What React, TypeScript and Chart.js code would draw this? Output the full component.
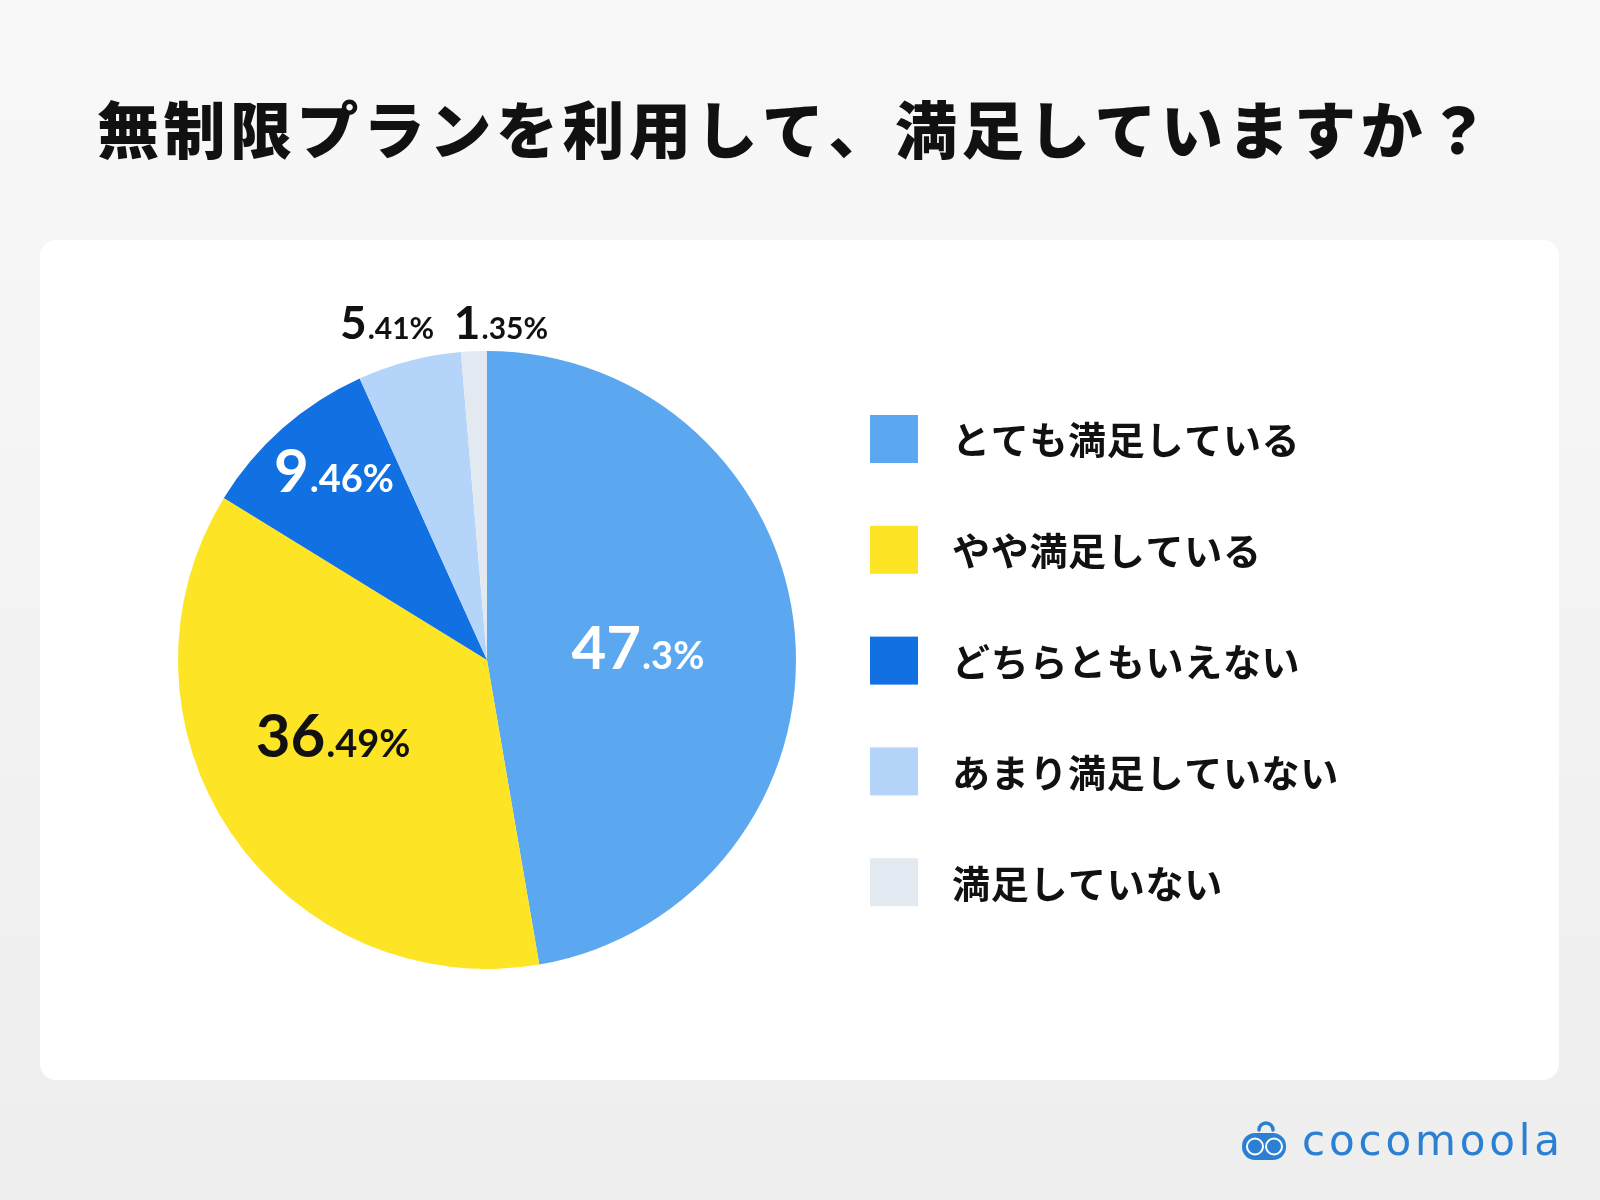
import React, { useEffect, useRef } from "react";
import { Chart, registerables } from "chart.js";

Chart.register(...registerables);

const TITLE = "無制限プランを利用して、満足していますか？";
const categories = [
  "とても満足している",
  "やや満足している",
  "どちらともいえない",
  "あまり満足していない",
  "満足していない",
];
const values = [47.3, 36.49, 9.46, 5.41, 1.35];
const colors = ["#5BA8F0", "#FDE525", "#1271E2", "#B4D4F9", "#E3E9F1"];
const labelColors = ["#ffffff", "#111111", "#ffffff", "#111111", "#111111"];
const BRAND = "cocomoola";

// label placement: radial fraction, angle shift (deg), big/small font sizes
const LABEL_PLACE = [
  { f: 0.49, shift: 0, big: 60, small: 38 },
  { f: 0.555, shift: 7.9, big: 60, small: 38 },
  { f: 0.788, shift: 2.4, big: 60, small: 38 },
  { f: 1.139, shift: -1.9, big: 46, small: 30 },
  { f: 1.093, shift: 4.8, big: 46, small: 30 },
];

const NUM_FONT = "Lato, 'Noto Sans', sans-serif";
const JP_FONT = "'Noto Sans CJK JP', 'Noto Sans', sans-serif";
const LOGO_FONT = "'DejaVu Sans', 'Noto Sans', sans-serif";

function drawSpaced(ctx: CanvasRenderingContext2D, text: string, x: number, y: number, ls: number) {
  let cx = x;
  for (const ch of Array.from(text)) {
    ctx.fillText(ch, cx, y);
    cx += ctx.measureText(ch).width + ls;
  }
}
function spacedWidth(ctx: CanvasRenderingContext2D, text: string, ls: number) {
  const chars = Array.from(text);
  return chars.reduce((a, c) => a + ctx.measureText(c).width, 0) + ls * (chars.length - 1);
}

const decorPlugin = {
  id: "decor",
  beforeDraw(chart: any) {
    const ctx: CanvasRenderingContext2D = chart.ctx;
    const W = chart.width;
    const H = chart.height;
    ctx.save();
    const g = ctx.createLinearGradient(0, 0, 0, H);
    g.addColorStop(0, "#f8f8f8");
    g.addColorStop(1, "#eeeeee");
    ctx.fillStyle = g;
    ctx.fillRect(0, 0, W, H);
    // card
    ctx.fillStyle = "#ffffff";
    ctx.beginPath();
    ctx.roundRect(40, 240, 1519, 840, 16);
    ctx.fill();
    // title
    ctx.fillStyle = "#111111";
    ctx.font = `900 62px ${JP_FONT}`;
    ctx.textBaseline = "middle";
    ctx.textAlign = "left";
    const targetW = 1392;
    const chars = Array.from(TITLE);
    const raw = spacedWidth(ctx, TITLE, 0);
    const ls = (targetW - raw) / (chars.length - 1);
    drawSpaced(ctx, TITLE, 793 - targetW / 2, 130, ls);
    ctx.restore();
  },
  afterDatasetsDraw(chart: any) {
    const ctx: CanvasRenderingContext2D = chart.ctx;
    const meta = chart.getDatasetMeta(0);
    ctx.save();
    ctx.textAlign = "left";
    ctx.textBaseline = "alphabetic";
    meta.data.forEach((arc: any, i: number) => {
      const { x, y, startAngle, endAngle, outerRadius } = arc.getProps(
        ["x", "y", "startAngle", "endAngle", "outerRadius"],
        true
      );
      const p = LABEL_PLACE[i];
      const mid = (startAngle + endAngle) / 2 + (p.shift * Math.PI) / 180;
      const r = outerRadius * p.f;
      const cx = x + Math.cos(mid) * r;
      const cy = y + Math.sin(mid) * r;
      const str = String(chart.data.datasets[0].data[i]) + "%";
      const dot = str.indexOf(".");
      const big = dot >= 0 ? str.slice(0, dot) : str.replace("%", "");
      const small = dot >= 0 ? str.slice(dot) : "%";
      ctx.font = `700 ${p.big}px ${NUM_FONT}`;
      const wb = ctx.measureText(big).width;
      ctx.font = `700 ${p.small}px ${NUM_FONT}`;
      const ws = ctx.measureText(small).width;
      const gap = 1;
      const total = wb + gap + ws;
      const baseline = cy + p.big * 0.36;
      const x0 = cx - total / 2;
      ctx.fillStyle = labelColors[i];
      ctx.font = `700 ${p.big}px ${NUM_FONT}`;
      ctx.fillText(big, x0, baseline);
      ctx.font = `700 ${p.small}px ${NUM_FONT}`;
      ctx.fillText(small, x0 + wb + gap, baseline);
    });
    ctx.restore();
  },
  afterDraw(chart: any) {
    const ctx: CanvasRenderingContext2D = chart.ctx;
    ctx.save();
    // legend
    const labels: string[] = chart.data.labels;
    const bg: string[] = chart.data.datasets[0].backgroundColor;
    ctx.font = `700 38px ${JP_FONT}`;
    ctx.textBaseline = "middle";
    ctx.textAlign = "left";
    labels.forEach((lab, i) => {
      const cy = 439 + i * 110.8;
      ctx.fillStyle = bg[i];
      ctx.fillRect(870, cy - 24, 48, 48);
      ctx.fillStyle = "#111111";
      drawSpaced(ctx, lab, 952, cy + 1, 0.7);
    });
    // logo
    const blue = "#2C80D2";
    ctx.fillStyle = blue;
    ctx.beginPath();
    ctx.roundRect(1242, 1133, 44, 27, 13);
    ctx.fill();
    ctx.strokeStyle = blue;
    ctx.lineWidth = 3.5;
    ctx.lineCap = "round";
    ctx.beginPath();
    ctx.arc(1266, 1130, 7, Math.PI, 0);
    ctx.stroke();
    ctx.strokeStyle = "#ffffff";
    ctx.lineWidth = 2;
    ctx.beginPath();
    ctx.arc(1255, 1146.5, 8, 0, Math.PI * 2);
    ctx.stroke();
    ctx.beginPath();
    ctx.arc(1274, 1146.5, 8, 0, Math.PI * 2);
    ctx.stroke();
    ctx.fillStyle = blue;
    ctx.font = `400 42px ${LOGO_FONT}`;
    ctx.textBaseline = "alphabetic";
    const rawW = spacedWidth(ctx, BRAND, 0);
    const bls = (258 - rawW) / (BRAND.length - 1);
    drawSpaced(ctx, BRAND, 1302, 1155, bls);
    ctx.restore();
  },
};

export default function App() {
  const ref = useRef<HTMLCanvasElement | null>(null);
  useEffect(() => {
    document.body.style.margin = "0";
    if (!ref.current) return;
    const chart = new Chart(ref.current, {
      type: "pie",
      data: {
        labels: categories,
        datasets: [
          {
            data: values,
            backgroundColor: colors,
            borderWidth: 0,
            hoverOffset: 0,
            offset: 0,
          },
        ],
      },
      options: {
        responsive: false,
        animation: false,
        events: [],
        layout: {
          padding: { left: 178, right: 1600 - 796, top: 351, bottom: 1200 - 969 },
        },
        plugins: {
          legend: { display: false },
          tooltip: { enabled: false },
          title: { display: false },
        },
      },
      plugins: [decorPlugin],
    });
    return () => chart.destroy();
  }, []);
  return (
    <div style={{ width: 1600, height: 1200 }}>
      <canvas ref={ref} width={1600} height={1200} style={{ display: "block" }} />
    </div>
  );
}
